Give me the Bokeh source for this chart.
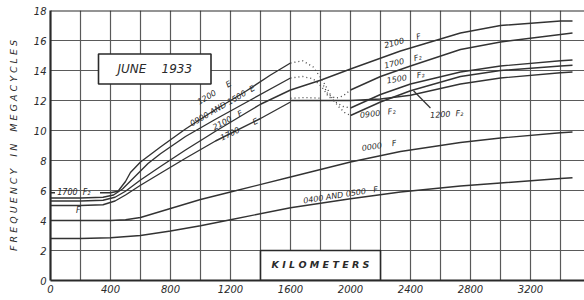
import numpy as np
from bokeh.plotting import figure
from bokeh.models import FixedTicker, Span, ColumnDataSource, Range1d
from bokeh.core.properties import value
from bokeh.embed import file_html
from bokeh.resources import INLINE

# ---------------- data (km, megacycles) ----------------
x_ticks = [0, 400, 800, 1200, 1600, 2000, 2400, 2800, 3200]
y_ticks = [0, 2, 4, 6, 8, 10, 12, 14, 16, 18]

f2_1700_left_x = [0, 30, np.nan, 330, 400, 450]
f2_1700_left_y = [5.85, 5.85, np.nan, 5.85, 5.85, 5.95]

e_1200_x = [450, 500, 533, 600, 733, 900, 1100, 1300, 1467, 1600]
e_1200_y = [5.95, 6.6, 7.2, 7.9, 8.9, 10.1, 11.4, 12.6, 13.7, 14.5]

e_0900_1500_x = [0, 200, 350, 420, 480, 550, 650, 733, 900, 1100, 1300, 1600]
e_0900_1500_y = [5.5, 5.5, 5.55, 5.7, 6.1, 6.8, 7.8, 8.45, 9.6, 10.75, 11.85, 13.5]

f_2100_x = [0, 200, 350, 430, 500, 600, 733, 900, 1100, 1300, 1400, 1600, 1800, 2000, 2333, 2733, 3000, 3400, 3480]
f_2100_y = [5.3, 5.3, 5.35, 5.55, 5.95, 6.7, 7.6, 8.7, 9.95, 11.15, 11.75, 12.7, 13.35, 14.1, 15.3, 16.5, 17.0, 17.3, 17.3]

e_1700_x = [0, 200, 350, 430, 500, 600, 733, 900, 1100, 1400, 1600]
e_1700_y = [5.0, 5.0, 5.05, 5.3, 5.7, 6.35, 7.15, 8.15, 9.3, 10.8, 11.9]

f2_1700_x = [2000, 2200, 2400, 2733, 3000, 3400, 3480]
f2_1700_y = [12.7, 13.6, 14.3, 15.4, 15.9, 16.4, 16.5]

f2_1500_x = [2000, 2200, 2400, 2733, 3000, 3400, 3480]
f2_1500_y = [11.5, 12.4, 13.1, 13.9, 14.3, 14.65, 14.7]

f2_1200_x = [2000, 2200, 2400, 2733, 3000, 3400, 3480]
f2_1200_y = [11.0, 11.9, 12.65, 13.6, 14.0, 14.3, 14.35]

f2_0900_x = [1600, 1800, 2000, 2200, 2400, 2733, 3000, 3400, 3480]
f2_0900_y = [12.0, 12.0, 12.0, 12.1, 12.35, 13.1, 13.5, 13.85, 13.9]

f_0000_x = [0, 200, 400, 500, 600, 800, 1000, 1200, 1600, 2000, 2333, 2733, 3000, 3400, 3480]
f_0000_y = [4.0, 4.0, 4.0, 4.05, 4.2, 4.8, 5.4, 5.9, 6.9, 7.9, 8.6, 9.2, 9.5, 9.85, 9.9]

f_0400_0500_x = [0, 200, 400, 600, 800, 1000, 1200, 1600, 2000, 2333, 2733, 3000, 3400, 3480]
f_0400_0500_y = [2.8, 2.8, 2.85, 3.0, 3.3, 3.65, 4.05, 4.85, 5.45, 5.9, 6.3, 6.5, 6.8, 6.85]

# dotted transitions E -> F2
dot1_x = [1600, 1680, 1750, 1810, 1850, 1880, 1920, 1960, 2000]
dot1_y = [14.5, 14.65, 14.25, 13.4, 12.7, 12.1, 11.6, 11.2, 11.0]
dot2_x = [1600, 1680, 1750, 1810, 1850, 1900, 1950, 2000]
dot2_y = [13.5, 13.6, 13.45, 12.9, 12.3, 11.9, 11.6, 11.5]
dot3_x = [1820, 1850, 1900, 1950, 2000]
dot3_y = [13.0, 12.4, 12.15, 12.3, 12.7]
dot4_x = [1600, 1700, 1800]
dot4_y = [12.15, 12.2, 12.15]

NB = "\u00a0"
# curve labels
lab_text = ["1200" + NB * 5 + "E", "0900 AND 1500" + NB * 2 + "E", "2100" + NB * 3 + "F",
            "1700" + NB * 6 + "E",
            "2100" + NB * 5 + "F", "1700" + NB * 4 + "F\u2082", "1500" + NB * 4 + "F\u2082",
            "0900" + NB * 3 + "F\u2082", "1200" + NB * 2 + "F\u2082", "0000" + NB * 4 + "F",
            "0400 AND 0500" + NB * 3 + "F", "1700" + NB * 2 + "F\u2082", "F"]
lab_x = [1000, 950, 1100, 1150, 2233, 2233, 2247, 2067, 2533, 2080, 1690, 45, 170]
lab_y = [11.6, 10.15, 9.9, 9.2, 15.35, 14.0, 13.0, 10.7, 10.7, 8.5, 5.0, 5.55, 4.4]
lab_angle = [31, 30, 28, 26, 15, 14, 10, 7, 4, 9, 9, 0, 0]

leader_x = [2533, 2420]
leader_y = [11.5, 12.65]

title_text = "JUNE" + NB * 4 + "1933"
xlabel_text = "K I L O M E T E R S"
ylabel_text = "F R E Q U E N C Y" + NB * 4 + "I N" + NB * 4 + "M E G A C Y C L E S"

june_box = dict(left=320, right=1070, bottom=13.1, top=15.1)
km_box = dict(left=1400, right=2200, bottom=0, top=2)

# ---------------- figure ----------------
INK = "#2a2a2a"
FONT = value("DejaVu Sans")

p = figure(width=584, height=300, output_backend="svg", toolbar_location=None,
           x_range=Range1d(0, 3560), y_range=Range1d(0, 18),
           min_border_left=50, min_border_right=0, min_border_top=10, min_border_bottom=20)
p.outline_line_color = None
p.background_fill_color = "white"

# grid
p.xgrid.ticker = FixedTicker(ticks=list(range(0, 3600, 200)))
p.ygrid.ticker = FixedTicker(ticks=y_ticks)
for g in (p.xgrid, p.ygrid):
    g.grid_line_color = "#5a5a5a"
    g.grid_line_width = 1.2

# axes
p.xaxis.ticker = FixedTicker(ticks=x_ticks)
p.yaxis.ticker = FixedTicker(ticks=y_ticks)
for ax in (p.xaxis, p.yaxis):
    ax.axis_line_width = 2.2
    ax.axis_line_color = INK
    ax.major_tick_line_color = None
    ax.minor_tick_line_color = None
    ax.major_tick_out = 0
    ax.major_label_text_font = "DejaVu Sans"
    ax.major_label_text_font_style = "italic"
    ax.major_label_text_font_size = "10px"
    ax.major_label_text_color = INK
p.xaxis.major_label_standoff = 4
p.yaxis.major_label_standoff = 4
p.yaxis.axis_label = ylabel_text
p.yaxis.axis_label_text_font = "DejaVu Sans"
p.yaxis.axis_label_text_font_style = "italic"
p.yaxis.axis_label_text_font_size = "9.5px"
p.yaxis.axis_label_text_color = INK
p.yaxis.axis_label_standoff = 12

p.add_layout(Span(location=18, dimension="width", line_color=INK, line_width=2.2))

# boxes
for b in (june_box, km_box):
    p.quad(left=[b["left"]], right=[b["right"]], bottom=[b["bottom"]], top=[b["top"]],
           fill_color="white", line_color=INK, line_width=1.6)

p.text(x=[(june_box["left"] + june_box["right"]) / 2], y=[(june_box["bottom"] + june_box["top"]) / 2],
       text=[title_text], text_font=FONT, text_font_style="italic", text_font_size="12px",
       text_align="center", text_baseline="middle", text_color=INK)
p.text(x=[(km_box["left"] + km_box["right"]) / 2], y=[(km_box["bottom"] + km_box["top"]) / 2 + 0.05],
       text=[xlabel_text], text_font=FONT, text_font_style="bold italic", text_font_size="9.5px",
       text_align="center", text_baseline="middle", text_color=INK)

# curves
solid = [(f2_1700_left_x, f2_1700_left_y), (e_1200_x, e_1200_y), (e_0900_1500_x, e_0900_1500_y),
         (f_2100_x, f_2100_y), (e_1700_x, e_1700_y), (f2_1700_x, f2_1700_y),
         (f2_1500_x, f2_1500_y), (f2_1200_x, f2_1200_y), (f2_0900_x, f2_0900_y),
         (f_0000_x, f_0000_y), (f_0400_0500_x, f_0400_0500_y)]
for xs, ys in solid:
    p.line(xs, ys, line_color="#333333", line_width=1.4)

for xs, ys in [(dot1_x, dot1_y), (dot2_x, dot2_y), (dot3_x, dot3_y), (dot4_x, dot4_y)]:
    p.line(xs, ys, line_color="#444444", line_width=1.3, line_dash="1 3")

p.line(leader_x, leader_y, line_color="#333333", line_width=1.2)

src = ColumnDataSource(dict(x=lab_x, y=lab_y, text=lab_text, angle=lab_angle))
p.text(x="x", y="y", text="text", angle="angle", angle_units="deg", source=src,
       text_font=FONT, text_font_style="italic", text_font_size="8px",
       text_align="left", text_baseline="bottom", text_color=INK)

open("out.html", "w").write(file_html(p, INLINE))
